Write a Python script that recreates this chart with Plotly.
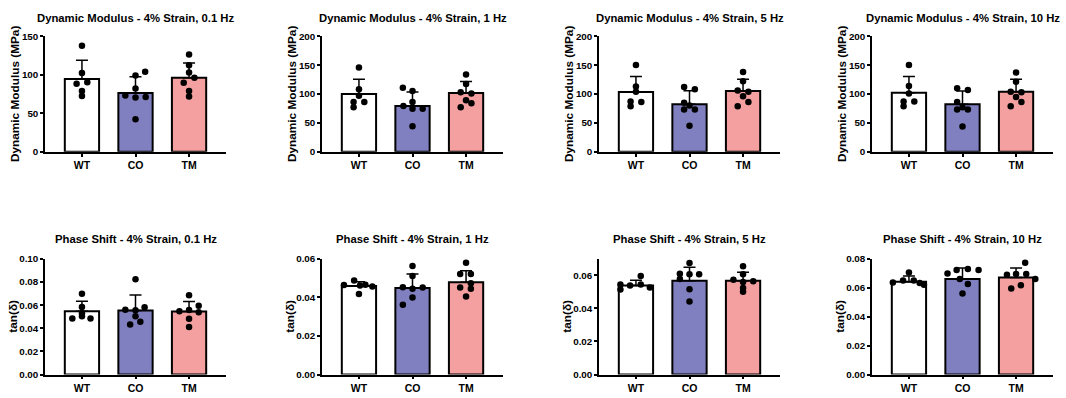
import plotly.graph_objects as go

groups = ["WT", "CO", "TM"]
bar_colors = ["#FFFFFF", "#8080C0", "#F4A0A0"]

titles = [
    "Dynamic Modulus - 4% Strain, 0.1 Hz",
    "Dynamic Modulus - 4% Strain, 1 Hz",
    "Dynamic Modulus - 4% Strain, 5 Hz",
    "Dynamic Modulus - 4% Strain, 10 Hz",
    "Phase Shift - 4% Strain, 0.1 Hz",
    "Phase Shift - 4% Strain, 1 Hz",
    "Phase Shift - 4% Strain, 5 Hz",
    "Phase Shift - 4% Strain, 10 Hz",
]
y_titles = ["Dynamic Modulus (MPa)"] * 4 + ["tan(δ)"] * 4

# bar means and SD (upper error) per panel: [WT, CO, TM]
means_dm_01 = [94.3, 76.2, 95.9]
sd_dm_01 = [24.3, 21.0, 19.3]
means_dm_1 = [100.0, 79.3, 101.7]
sd_dm_1 = [25.7, 24.1, 20.1]
means_dm_5 = [103.4, 82.1, 105.0]
sd_dm_5 = [26.8, 23.5, 20.7]
means_dm_10 = [102.2, 82.1, 103.9]
sd_dm_10 = [28.0, 22.9, 21.8]

means_ps_01 = [0.0547, 0.0553, 0.0545]
sd_ps_01 = [0.0087, 0.0134, 0.0086]
means_ps_1 = [0.0459, 0.0449, 0.0478]
sd_ps_1 = [0.0022, 0.0072, 0.0060]
means_ps_5 = [0.0538, 0.0567, 0.0567]
sd_ps_5 = [0.0033, 0.0082, 0.0052]
means_ps_10 = [0.0641, 0.0661, 0.0670]
sd_ps_10 = [0.0041, 0.0076, 0.0067]

# individual points per group
pts_dm_01 = [
    [137.4, 102.2, 88.4, 90.1, 78.8, 72.5],
    [98.9, 103.9, 72.9, 82.1, 70.4, 71.2, 42.3],
    [126.1, 112.3, 103.0, 89.6, 95.9, 78.8, 71.6],
]
pts_dm_1 = [
    [146.0, 108.0, 86.0, 86.0, 77.0, 97.0],
    [110.6, 105.0, 86.0, 79.3, 74.3, 74.3, 44.1],
    [133.5, 117.3, 103.0, 101.0, 89.0, 84.0, 77.0],
]
pts_dm_5 = [
    [150.0, 113.0, 104.0, 87.0, 86.0, 79.0],
    [112.0, 108.0, 85.0, 80.0, 73.0, 73.0, 45.0],
    [138.0, 122.0, 106.0, 104.0, 96.0, 86.0, 79.0],
]
pts_dm_10 = [
    [150.0, 114.0, 101.0, 87.0, 87.0, 79.0],
    [110.0, 107.0, 86.0, 77.0, 73.0, 73.0, 44.0],
    [137.0, 121.0, 104.0, 103.0, 95.0, 86.0, 79.0],
]
pts_ps_01 = [
    [0.0698, 0.0584, 0.0530, 0.0503, 0.0485, 0.0485],
    [0.0824, 0.0559, 0.0581, 0.0555, 0.0503, 0.0433, 0.0455],
    [0.0684, 0.0595, 0.0547, 0.0557, 0.0539, 0.0483, 0.0410],
]
pts_ps_1 = [
    [0.0464, 0.0488, 0.0462, 0.0466, 0.0456, 0.0417],
    [0.0563, 0.0511, 0.0453, 0.0451, 0.0445, 0.0399, 0.0362],
    [0.0580, 0.0521, 0.0521, 0.0473, 0.0451, 0.0445, 0.0404],
]
pts_ps_5 = [
    [0.0596, 0.0545, 0.0514, 0.0539, 0.0545, 0.0526],
    [0.0674, 0.0610, 0.0606, 0.0606, 0.0578, 0.0516, 0.0442],
    [0.0655, 0.0606, 0.0573, 0.0565, 0.0560, 0.0524, 0.0500],
]
pts_ps_10 = [
    [0.0706, 0.0650, 0.0650, 0.0637, 0.0632, 0.0621],
    [0.0729, 0.0722, 0.0722, 0.0699, 0.0626, 0.0661, 0.0561],
    [0.0773, 0.0695, 0.0695, 0.0661, 0.0690, 0.0617, 0.0594],
]

# horizontal scatter offsets of the points (category units)
jit_dm_01 = [[0, 0, -0.1, 0.1, 0, 0], [0, 0.18, -0.19, 0, 0, 0.19, 0], [0, 0, 0, -0.1, 0.1, 0, 0]]
jit_dm_1 = [[0, 0, -0.1, 0.1, -0.1, 0], [-0.18, 0, 0, -0.17, 0, 0.19, 0], [0, 0, -0.1, 0.1, 0, 0.1, -0.1]]
jit_dm_5 = [[0, 0, 0, -0.1, 0.1, -0.1], [-0.1, 0.1, -0.1, 0, -0.1, 0.1, 0], [0, 0, -0.1, 0.1, 0, 0.1, -0.1]]
jit_dm_10 = [[0, 0, 0, -0.1, 0.1, -0.1], [-0.1, 0.1, -0.1, 0, -0.1, 0.1, 0], [0, 0, -0.1, 0.1, 0, 0.1, -0.1]]
jit_ps_01 = [[0, 0, 0, 0.0, -0.18, 0.16], [0, -0.19, 0.17, 0, 0, -0.1, 0.09], [0, 0.18, -0.18, 0, 0.18, 0, 0]]
jit_ps_1 = [[-0.28, -0.09, 0.02, 0.12, 0.25, 0], [0, 0, -0.18, 0.19, 0, 0, -0.18], [0, -0.11, 0.09, 0.09, -0.11, 0.09, 0]]
jit_ps_5 = [[0.09, -0.29, -0.29, -0.11, 0.09, 0.26], [0, -0.18, 0.18, 0, -0.18, 0, 0], [0, 0, -0.18, 0.19, 0, 0, 0]]
jit_ps_10 = [[0, -0.11, 0.09, -0.3, 0.2, 0.28], [0.1, -0.11, 0.3, -0.28, 0.1, -0.05, 0], [0.17, 0, 0.19, 0.36, -0.17, 0.09, -0.09]]

y_ranges = [[0, 150], [0, 200], [0, 200], [0, 200], [0, 0.10], [0, 0.06], [0, 0.07], [0, 0.08]]
y_dticks = [50, 50, 50, 50, 0.02, 0.02, 0.02, 0.02]

panels = [
    (means_dm_01, sd_dm_01, pts_dm_01, jit_dm_01),
    (means_dm_1, sd_dm_1, pts_dm_1, jit_dm_1),
    (means_dm_5, sd_dm_5, pts_dm_5, jit_dm_5),
    (means_dm_10, sd_dm_10, pts_dm_10, jit_dm_10),
    (means_ps_01, sd_ps_01, pts_ps_01, jit_ps_01),
    (means_ps_1, sd_ps_1, pts_ps_1, jit_ps_1),
    (means_ps_5, sd_ps_5, pts_ps_5, jit_ps_5),
    (means_ps_10, sd_ps_10, pts_ps_10, jit_ps_10),
]

W, H = 1066, 398
col_px = [45, 322, 599, 872]
col_w = 181
row_px = [(31, 150), (260, 379)]
FONT = "Liberation Sans, Arial, Helvetica, sans-serif"

fig = go.Figure()
layout = dict(
    width=W, height=H, margin=dict(l=0, r=0, t=0, b=0),
    plot_bgcolor="white", paper_bgcolor="white", showlegend=False,
    font=dict(family=FONT, color="black"),
)
annotations = []

for i, (means, sds, pts, jits) in enumerate(panels):
    r, c = divmod(i, 4)
    ax = "" if i == 0 else str(i + 1)
    xref, yref = "x" + ax, "y" + ax
    x0 = col_px[c] / W
    x1 = (col_px[c] + col_w) / W
    yt, yb = row_px[r]
    y0 = 1 - yb / H
    y1 = 1 - yt / H

    fig.add_trace(go.Bar(
        x=[0, 1, 2], y=means, width=0.64,
        marker=dict(color=bar_colors, line=dict(color="black", width=2)),
        error_y=dict(type="data", symmetric=False, array=sds, arrayminus=[0, 0, 0],
                     color="black", thickness=1.5, width=6),
        xaxis=xref, yaxis=yref, hoverinfo="skip",
    ))
    xs, ys = [], []
    for g in range(3):
        for v, j in zip(pts[g], jits[g]):
            xs.append(g + j)
            ys.append(v)
    fig.add_trace(go.Scatter(
        x=xs, y=ys, mode="markers",
        marker=dict(color="black", size=6.5),
        xaxis=xref, yaxis=yref, hoverinfo="skip", cliponaxis=False,
    ))

    layout["xaxis" + ax] = dict(
        domain=[x0, x1], anchor=yref, range=[-0.69, 2.69],
        tickvals=[0, 1, 2], ticktext=groups,
        showline=True, linecolor="black", linewidth=1.5,
        ticks="outside", ticklen=3, tickwidth=1.5, tickcolor="black",
        showgrid=False, zeroline=False, fixedrange=True,
        tickfont=dict(family=FONT, size=10.5, color="black", weight="bold"),
    )
    ytick_vals = []
    v = 0.0
    while v <= y_ranges[i][1] + 1e-9:
        ytick_vals.append(round(v, 4))
        v += y_dticks[i]
    layout["yaxis" + ax] = dict(
        domain=[y0, y1], anchor=xref, range=y_ranges[i],
        tickvals=ytick_vals,
        tickformat=".2f" if r == 1 else "d",
        showline=True, linecolor="black", linewidth=1.5,
        ticks="outside", ticklen=3, tickwidth=1.5, tickcolor="black",
        showgrid=False, zeroline=False, fixedrange=True,
        tickfont=dict(family=FONT, size=9.8, color="black", weight="bold"),
    )
    # panel title
    annotations.append(dict(
        text=titles[i], xref="paper", yref="paper",
        x=(x0 + x1) / 2, y=1 - (12 if r == 0 else 240) / H,
        xanchor="center", yanchor="middle", showarrow=False,
        font=dict(family=FONT, size=11.3, color="black", weight="bold"),
    ))
    # y title
    annotations.append(dict(
        text=y_titles[i], xref="paper", yref="paper",
        x=(col_px[c] - (30 if r == 0 else 32)) / W, y=(y0 + y1) / 2,
        xanchor="center", yanchor="middle", textangle=-90, showarrow=False,
        font=dict(family=FONT, size=11.8, color="black", weight="bold"),
    ))

layout["annotations"] = annotations
fig.update_layout(**layout)
fig.write_html("out.html")
